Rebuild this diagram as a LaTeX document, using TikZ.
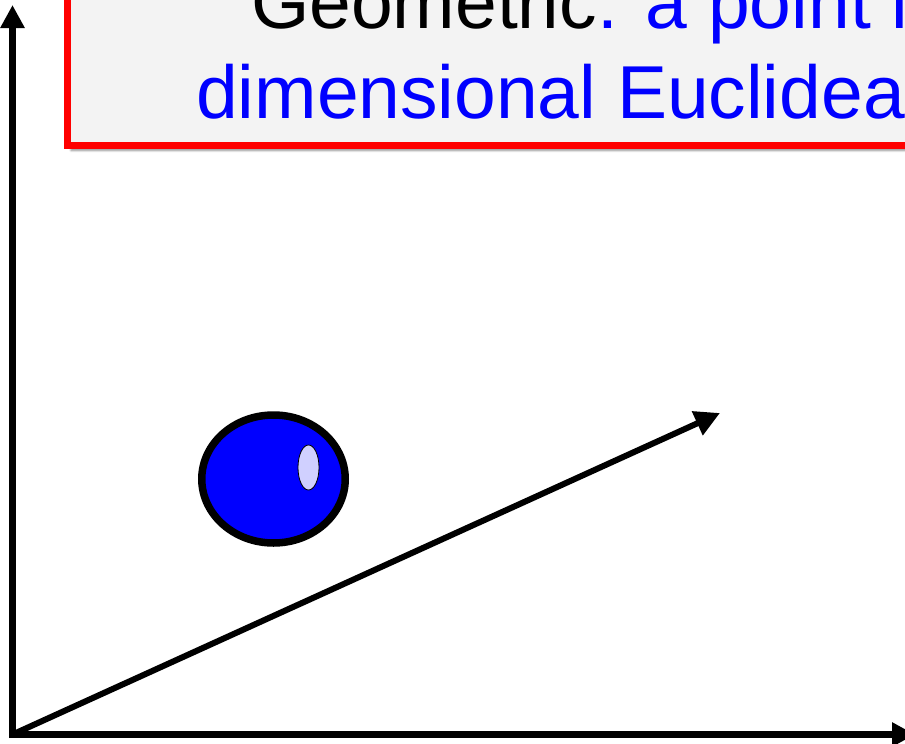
\documentclass[tikz,border=0pt]{standalone}
\usepackage{fontspec}
\setmainfont{Liberation Sans}
\usepackage{tikz}
\usetikzlibrary{
  arrows.meta,
  positioning,
  shapes.geometric,
  shadows.blur
}
\definecolor{BoxRed}{RGB}{255,0,0}
\definecolor{BoxGray}{RGB}{243,243,243}
\definecolor{PureBlue}{RGB}{0,0,255}
\definecolor{GlintBlue}{RGB}{208,208,255}
\tikzset{
  banner/.style={draw=BoxRed,fill=BoxGray,line width=7pt,
    blur shadow={shadow xshift=4pt,shadow yshift=-5pt,shadow blur steps=6,shadow opacity=45}},
  bannertext/.style={anchor=base west,inner sep=0pt,font=\fontsize{75}{90}\selectfont},
  axis/.style={-{Triangle[length=23pt,width=23pt]},line width=6.5pt},
  vecarrow/.style={-{Triangle[length=25pt,width=25pt]},line width=6pt},
  ball/.style={ellipse,draw=black,fill=PureBlue,line width=7.5pt,inner sep=0pt},
  glint/.style={ellipse,draw=black,fill=GlintBlue,line width=0.8pt,inner sep=0pt}
}

\begin{document}
\begin{tikzpicture}[x=1pt,y=-1pt]
\useasboundingbox (0,0) rectangle (905,744);
\clip (0,0) rectangle (905,744);

% heading box, runs off the top and right
\node[banner,minimum width=1033pt,minimum height=245pt] (box) at (583.5,23) {};
\node[bannertext] (line1) at (251,28) {Geometric\textcolor{PureBlue}{: a point in}};
\node[bannertext,text=PureBlue] (line2) at (196,118) {dimensional Euclidean};

% axes
\coordinate (origin) at (12.5,734.5);
\coordinate (ybot) at (12.5,738);
\coordinate (ytop) at (12.5,5);
\coordinate (xleft) at (9,734.5);
\coordinate (xright) at (915,734.5);
\coordinate (vtip) at (720,413);
\draw[axis] (ybot) -- (ytop);
\draw[axis] (xleft) -- (xright);
\draw[vecarrow] (origin) -- (vtip);

% the point
\node[ball,minimum width=143.5pt,minimum height=128pt] (pt) at (273.5,479) {};
\node[glint,minimum width=21pt,minimum height=45pt] (shine) at (308.5,467.5) {};
\end{tikzpicture}
\end{document}
